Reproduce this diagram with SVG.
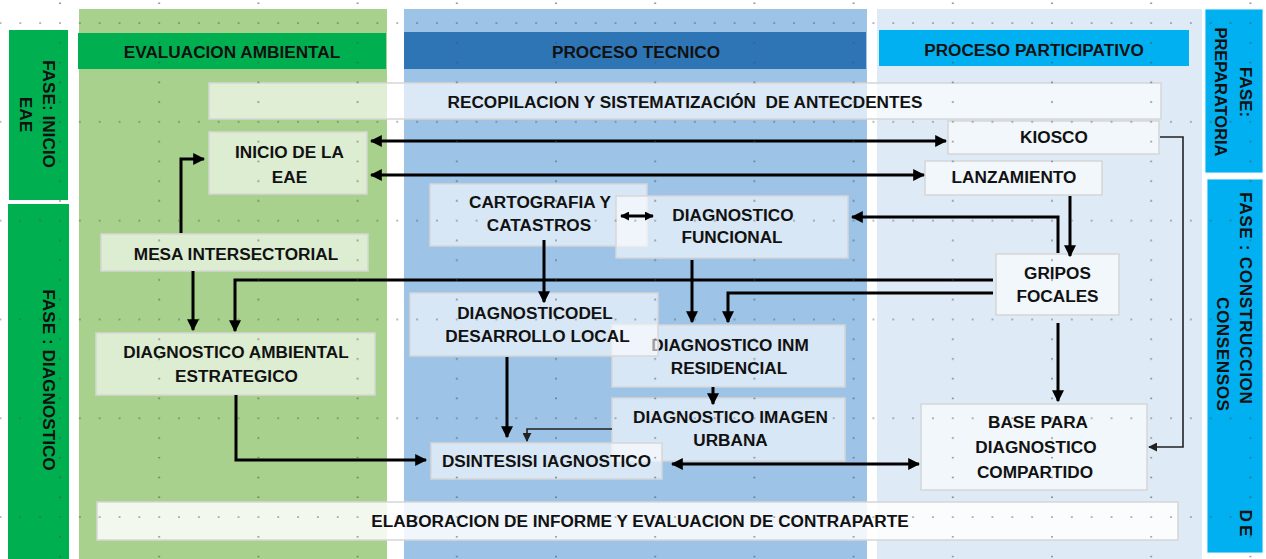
<svg xmlns="http://www.w3.org/2000/svg" width="1266" height="559" viewBox="0 0 1266 559">
<style>
.t{font-family:"Liberation Sans",Arial,sans-serif;font-weight:bold;font-size:17.2px;fill:#111;text-anchor:middle}
.n{fill:#fff;fill-opacity:.6;stroke:#d6d6d6;stroke-width:1.5}
.nl{fill:#fff;fill-opacity:.85;stroke:#d6d6d6;stroke-width:1.5}
.c{fill:none;stroke:#000;stroke-width:3}
.cs{fill:none;stroke:#222;stroke-width:1.6}
</style>
<defs>
<marker id="ah" viewBox="0 0 10 10" refX="9" refY="5" markerWidth="12" markerHeight="12" markerUnits="userSpaceOnUse" orient="auto-start-reverse"><path d="M0,0 L10,5 L0,10 z" fill="#000"/></marker>
<marker id="ahm" viewBox="0 0 10 10" refX="9" refY="5" markerWidth="9" markerHeight="9" markerUnits="userSpaceOnUse" orient="auto-start-reverse"><path d="M0,0 L10,5 L0,10 z" fill="#000"/></marker>
<marker id="ahs" viewBox="0 0 10 10" refX="9" refY="5" markerWidth="9" markerHeight="9" markerUnits="userSpaceOnUse" orient="auto-start-reverse"><path d="M0,0 L10,5 L0,10 z" fill="#222"/></marker>
<pattern id="dots" x="59" y="22" width="99.2" height="98.8" patternUnits="userSpaceOnUse">
<g fill="#4a4a4a" fill-opacity=".75">
<circle cx="1" cy="1" r=".85"/><circle cx="20.84" cy="1" r=".85"/><circle cx="40.68" cy="1" r=".85"/><circle cx="60.52" cy="1" r=".85"/><circle cx="80.36" cy="1" r=".85"/>
<circle cx="1" cy="20.76" r=".85"/><circle cx="1" cy="40.52" r=".85"/><circle cx="1" cy="60.28" r=".85"/><circle cx="1" cy="80.04" r=".85"/>
</g>
</pattern>
</defs>
<rect width="1266" height="559" fill="#fff"/>
<g id="columns">
<rect x="79" y="9" width="308" height="550" fill="#a9d18e"/>
<rect x="404" y="9" width="463" height="550" fill="#9dc3e6"/>
<rect x="877" y="9" width="325" height="550" fill="#deebf7"/>
</g>
<g id="header-evaluacion"><rect x="78" y="33" width="308" height="36" fill="#00b050"/><text class="t" x="232" y="58">EVALUACION AMBIENTAL</text></g>
<g id="header-tecnico"><rect x="404" y="32" width="462" height="37" fill="#2e75b6"/><text class="t" x="636" y="58">PROCESO TECNICO</text></g>
<g id="header-participativo"><rect x="879" y="30" width="310" height="36" fill="#00b0f0"/><text class="t" x="1034" y="56">PROCESO PARTICIPATIVO</text></g>
<g id="fase-inicio"><rect x="9" y="30" width="59" height="170" fill="#00b050"/>
<text class="t" transform="translate(43,114) rotate(90)">FASE: INICIO</text>
<text class="t" transform="translate(20,114.5) rotate(90)">EAE</text></g>
<g id="fase-diagnostico"><rect x="8" y="204" width="61" height="355" fill="#00b050"/>
<text class="t" transform="translate(43,380) rotate(90)">FASE : DIAGNOSTICO</text></g>
<g id="fase-preparatoria"><rect x="1205" y="9" width="58" height="164" fill="#00b0f0" stroke="#e8f4fb" stroke-width="1"/>
<text class="t" transform="translate(1240,92) rotate(90)">FASE:</text>
<text class="t" transform="translate(1215,92) rotate(90)" textLength="129" lengthAdjust="spacingAndGlyphs">PREPARATORIA</text></g>
<g id="fase-construccion"><rect x="1207" y="179" width="56" height="374" fill="#00b0f0" stroke="#e8f4fb" stroke-width="1"/>
<text class="t" transform="translate(1240,298) rotate(90)" textLength="212" lengthAdjust="spacing">FASE : CONSTRUCCION</text>
<text class="t" transform="translate(1240,524.5) rotate(90)" style="letter-spacing:3px">DE</text>
<text class="t" transform="translate(1217,354) rotate(90)" textLength="114" lengthAdjust="spacing">CONSENSOS</text></g>

<g id="recopilacion"><rect class="n" x="209" y="83" width="952" height="36" style="fill-opacity:.63"/><text class="t" x="685" y="108" xml:space="preserve">RECOPILACION Y SISTEMATIZACIÓN  DE ANTECDENTES</text></g>
<g id="elaboracion"><rect class="nl" x="97" y="502" width="1081" height="38"/><text class="t" x="640" y="527">ELABORACION DE INFORME Y EVALUACION DE CONTRAPARTE</text></g>
<g id="inicio"><rect class="n" x="209" y="132" width="158" height="62"/><text class="t" x="289.5" y="158">INICIO DE LA</text><text class="t" x="289.5" y="183">EAE</text></g>
<g id="kiosco"><rect class="n" x="948" y="121" width="211" height="33"/><text class="t" x="1054" y="143">KIOSCO</text></g>
<g id="lanzamiento"><rect class="n" x="925" y="161" width="177" height="34"/><text class="t" x="1014" y="183">LANZAMIENTO</text></g>
<g id="mesa"><rect class="n" x="101" y="234" width="267" height="37"/><text class="t" x="236" y="260">MESA INTERSECTORIAL</text></g>
<g id="cartografia"><rect class="n" x="430" y="184" width="217" height="62"/><text class="t" x="540" y="208">CARTOGRAFIA Y</text><text class="t" x="539" y="231">CATASTROS</text></g>
<g id="funcional"><rect class="n" x="616" y="196" width="232" height="62"/><text class="t" x="733" y="221">DIAGNOSTICO</text><text class="t" x="732" y="243">FUNCIONAL</text></g>
<g id="gripos"><rect class="n" x="996" y="254" width="123" height="61"/><text class="t" x="1057.5" y="279">GRIPOS</text><text class="t" x="1057.5" y="302">FOCALES</text></g>
<g id="inm"><rect class="n" x="612" y="325" width="233" height="62"/><text class="t" x="730" y="351">DIAGNOSTICO INM</text><text class="t" x="729" y="374">RESIDENCIAL</text></g>
<g id="desarrollo"><rect class="n" x="410" y="293" width="248" height="63"/><text class="t" x="535" y="319">DIAGNOSTICODEL</text><text class="t" x="537.5" y="342">DESARROLLO LOCAL</text></g>
<g id="ambiental"><rect class="n" x="96" y="333" width="279" height="62"/><text class="t" x="236" y="358">DIAGNOSTICO AMBIENTAL</text><text class="t" x="236.5" y="382">ESTRATEGICO</text></g>
<g id="imagen"><rect class="n" x="612" y="398" width="233" height="63"/><text class="t" x="730.5" y="423">DIAGNOSTICO IMAGEN</text><text class="t" x="730.5" y="446">URBANA</text></g>
<g id="sintesis"><rect class="n" x="431" y="443" width="231" height="36"/><text class="t" x="546.5" y="467">DSINTESISI IAGNOSTICO</text></g>
<g id="base"><rect class="n" x="921" y="404" width="226" height="86"/><text class="t" x="1038" y="428">BASE PARA</text><text class="t" x="1036" y="453">DIAGNOSTICO</text><text class="t" x="1035" y="478">COMPARTIDO</text></g>

<g id="connectors">
<path class="c" d="M371,141 H946" marker-start="url(#ah)" marker-end="url(#ah)"/>
<path class="c" d="M371,175 H924" marker-start="url(#ah)" marker-end="url(#ah)"/>
<path class="c" d="M181,233 V159 H204" marker-end="url(#ah)"/>
<path class="c" d="M193,271 V330" marker-end="url(#ah)"/>
<path class="c" d="M993,280 H235 V331" marker-end="url(#ah)"/>
<path class="c" d="M993,293 H728 V322" marker-end="url(#ah)"/>
<path class="c" d="M692,260 V322" marker-end="url(#ah)"/>
<path class="c" d="M544,240 V302" marker-end="url(#ah)"/>
<path class="c" d="M621,216 H653" marker-start="url(#ahm)" marker-end="url(#ahm)"/>
<path class="c" d="M1058,253 V217 H852" marker-end="url(#ah)"/>
<path class="c" d="M1070,196 V256" marker-end="url(#ah)"/>
<path class="cs" d="M1160,137 H1183 V447 H1149" marker-end="url(#ahs)"/>
<path class="c" d="M1058,323 V401" marker-end="url(#ah)"/>
<path class="c" d="M507,357 V437" marker-end="url(#ah)"/>
<path class="cs" d="M612,429 H527 V441" marker-end="url(#ahs)"/>
<path class="c" d="M713,387 V404" marker-end="url(#ah)"/>
<path class="c" d="M236,395 V460 H426" marker-end="url(#ah)"/>
<path class="c" d="M672,464 H919" marker-start="url(#ah)" marker-end="url(#ah)"/>
</g>
<rect id="grid-dots" width="1266" height="559" fill="url(#dots)"/>
</svg>
